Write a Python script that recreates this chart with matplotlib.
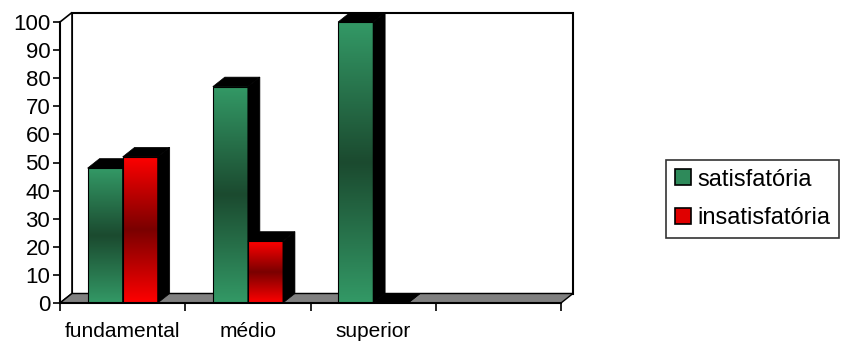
import numpy as np
import matplotlib
matplotlib.use('Agg')
import matplotlib.pyplot as plt
from matplotlib.patches import Polygon, Rectangle
from matplotlib.colors import LinearSegmentedColormap

# ---- data ----
categories = ['fundamental', 'médio', 'superior', '']
series_names = ['satisfatória', 'insatisfatória']
satisfatoria = [48, 77, 100]
insatisfatoria = [52, 22, 0]
yticks = list(range(0, 101, 10))

plt.rcParams['font.family'] = ['Liberation Sans', 'DejaVu Sans']

W, H = 844, 345
fig = plt.figure(figsize=(W / 100, H / 100), dpi=100)
px0, px1, py0, py1 = 60, 561, 303, 22
ax = fig.add_axes([px0 / W, 1 - py0 / H, (px1 - px0) / W, (py0 - py1) / H])
ncat = len(categories)
ax.set_xlim(0, ncat)
ax.set_ylim(0, 100)
ax.set_facecolor('none')

# depth offsets in data units
DX = 12 / ((px1 - px0) / ncat)
DY = 9.5 / ((py0 - py1) / 100)

# walls and floor
ax.add_patch(Rectangle((DX, DY), ncat, 100, facecolor='white', edgecolor='black',
                       lw=1.5, clip_on=False, zorder=0))
ax.add_patch(Polygon([(0, 0), (0, 100), (DX, 100 + DY), (DX, DY)], closed=True,
                     facecolor='white', edgecolor='black', lw=1.2, clip_on=False, zorder=0.5))
ax.add_patch(Polygon([(0, 0), (ncat, 0), (ncat + DX, DY), (DX, DY)], closed=True,
                     facecolor='#808080', edgecolor='black', lw=1.0, clip_on=False, zorder=0.6))

cm_green = LinearSegmentedColormap.from_list('g', ['#339966', '#1b4a2f', '#339966'])
cm_red = LinearSegmentedColormap.from_list('r', ['#ff0000', '#7a0000', '#ff0000'])
grad = np.linspace(0, 1, 256).reshape(-1, 1)

bw = 0.28
series = [satisfatoria, insatisfatoria]
cmaps = [cm_green, cm_red]
z = 1
for i in range(len(satisfatoria)):
    for s, (vals, cmap) in enumerate(zip(series, cmaps)):
        v = vals[i]
        xl = i + 0.5 - bw + s * bw
        xr = xl + bw
        if v > 0:
            ax.imshow(grad, cmap=cmap, extent=[xl, xr, 0, v], aspect='auto',
                      origin='lower', zorder=z, interpolation='bilinear')
            ax.add_patch(Rectangle((xl, 0), bw, v, facecolor='none', edgecolor='black',
                                   lw=0.8, zorder=z + 0.1))
        # top face
        ax.add_patch(Polygon([(xl, v), (xr, v), (xr + DX, v + DY), (xl + DX, v + DY)],
                             closed=True, facecolor='black', edgecolor='black', lw=0.5,
                             zorder=z + 0.2, clip_on=False))
        # side face
        ax.add_patch(Polygon([(xr, 0), (xr, v), (xr + DX, v + DY), (xr + DX, DY)],
                             closed=True, facecolor='black', edgecolor='black', lw=0.5,
                             zorder=z + 0.2, clip_on=False))
        z += 1

ax.set_xlim(0, ncat)
ax.set_ylim(0, 100)

# axes / ticks
for sp in ['top', 'right']:
    ax.spines[sp].set_visible(False)
ax.spines['left'].set_linewidth(1.5)
ax.spines['bottom'].set_linewidth(1.5)
ax.spines['left'].set_zorder(50)
ax.spines['bottom'].set_zorder(50)
ax.set_yticks(yticks)
ax.set_yticklabels([str(t) for t in yticks], fontsize=16)
ax.tick_params(axis='y', direction='out', length=5, width=1.2, pad=2)
ax.set_xticks(range(ncat + 1))
ax.set_xticklabels([''] * (ncat + 1))
ax.set_xticks([c + 0.5 for c in range(ncat)], minor=True)
ax.set_xticklabels(categories, minor=True, fontsize=15)
ax.tick_params(axis='x', which='major', direction='out', length=6, width=1.2)
ax.tick_params(axis='x', which='minor', length=0, pad=14)

# legend
handles = [Rectangle((0, 0), 1, 1, facecolor='#2e8a5a', edgecolor='black', lw=1.2),
           Rectangle((0, 0), 1, 1, facecolor='#e00000', edgecolor='black', lw=1.2)]
leg = fig.legend(handles, series_names, loc='center left',
                 bbox_to_anchor=(666 / W, 1 - 199 / H), fontsize=17,
                 frameon=True, fancybox=False, edgecolor='black',
                 handlelength=0.68, handleheight=0.68, handletextpad=0.3,
                 borderpad=0.36, labelspacing=0.72, borderaxespad=0)
leg.get_frame().set_linewidth(1.2)

fig.savefig('out.png', dpi=100)
